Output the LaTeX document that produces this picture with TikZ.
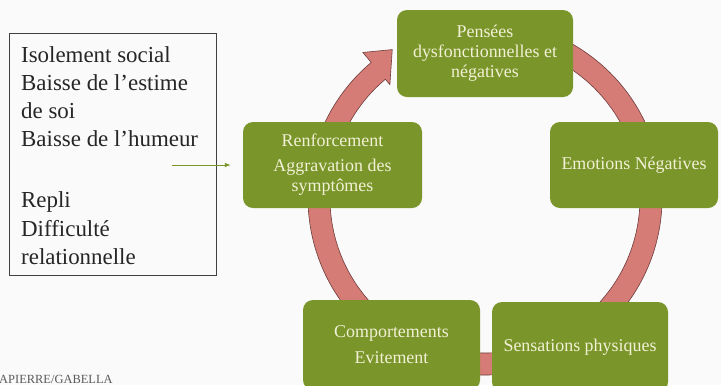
\documentclass[tikz,border=0pt]{standalone}
\usepackage{fontspec}
\setmainfont{Liberation Serif}
\usetikzlibrary{calc,arrows.meta}
\definecolor{boxgreen}{RGB}{122,150,42}
\definecolor{boxtext}{RGB}{242,240,214}
\definecolor{ringfill}{RGB}{214,124,118}
\definecolor{ringedge}{RGB}{110,60,60}
\definecolor{bg}{RGB}{250,250,250}
\definecolor{foot}{RGB}{90,90,90}
\begin{document}
\begin{tikzpicture}[x=1bp,y=1bp,
  cycbox/.style={fill=boxgreen, rounded corners=10bp, text=boxtext, align=center,
    font=\fontsize{18}{20}\selectfont, inner sep=0pt},
  sidebox/.style={draw=black!75, line width=1.2bp, inner sep=0pt},
  sidetext/.style={align=left, inner sep=0pt, font=\fontsize{23}{28.3}\selectfont, text=black!85},
  linkarrow/.style={draw=boxgreen, line width=0.8bp, -{Latex[length=6bp,width=4.5bp]}},
  ring/.style={fill=ringfill, draw=ringedge, line width=0.6bp}
]
\useasboundingbox (0,0) rectangle (721,-385);
\clip (0,0) rectangle (721,-385);
\fill[bg] (0,0) rectangle (721,-385);

\coordinate (C) at (485,-198);
\path[ring] ($(C)+(100:177)$) arc[start angle=100,end angle=-230,radius=177]
  -- ($(C)+(130:190)$) -- ($(C)+(122:175)$) -- ($(C)+(130:148)$)
  -- ($(C)+(130:155)$) arc[start angle=130,end angle=460,radius=155] -- cycle;

\node[cycbox, minimum width=176bp, minimum height=87bp] (pens) at (485,-53.5)
  {Pensées\\dysfonctionnelles et\\négatives};
\node[cycbox, minimum width=168bp, minimum height=86bp] (emo) at (634,-165)
  {Emotions Négatives};
\node[cycbox, minimum width=176bp, minimum height=90bp] (sens) at (580,-347)
  {Sensations physiques};
\node[cycbox, minimum width=177bp, minimum height=90bp] (comp) at (391.5,-345)
  {Comportements\\[6bp]Evitement};
\node[cycbox, minimum width=179bp, minimum height=86bp] (renf) at (332.5,-165)
  {Renforcement\\[5bp]Aggravation des\\symptômes};

\node[sidebox, minimum width=207bp, minimum height=242bp, anchor=north west] (side) at (9,-33) {};
\node[sidetext, anchor=north west] (sidet) at (21,-46)
  {Isolement social\\Baisse de l’estime\\de soi\\Baisse de l’humeur\\[33bp]Repli\\Difficulté\\relationnelle};

\coordinate (s) at (172,-165);
\draw[linkarrow, shorten >=12bp] (s) -- (renf.west);

\node[anchor=west, inner sep=0pt, text=foot, font=\fontsize{12.5}{14}\selectfont] (foot) at (-1,-379.5)
  {APIERRE/GABELLA};
\end{tikzpicture}
\end{document}
